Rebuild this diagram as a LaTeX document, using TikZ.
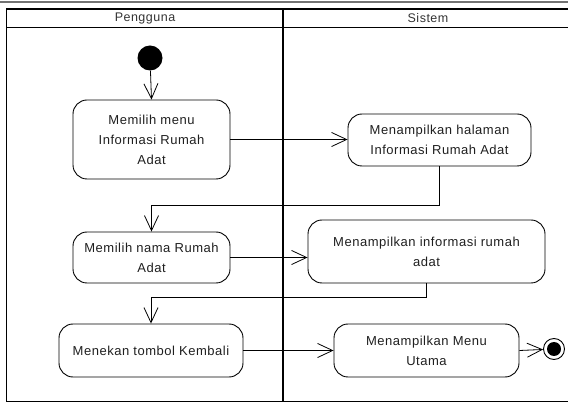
\documentclass[tikz,border=0pt]{standalone}
\usepackage{fontspec}
\setmainfont{Liberation Sans}[LetterSpace=4]
\usetikzlibrary{arrows.meta,calc}
\begin{document}
\begin{tikzpicture}[x=1pt,y=-1pt,
  act/.style={draw, line width=0.9pt, rounded corners=14pt, align=center,
    font=\fontsize{13}{20}\selectfont, text=black!88, inner sep=0pt},
  flow/.style={draw, line width=0.8pt,
    -{Straight Barb[length=15pt,width=14pt,line width=0.8pt]}},
  lane/.style={line width=1.8pt},
  title/.style={font=\fontsize{12.5}{15}\selectfont, text=black!80}]
\useasboundingbox (0,0) rectangle (568,403);

% swimlane frame
\draw[black!55, line width=1.5pt] (0,2) -- (568,2);
\draw[lane] (6.5,9) -- (568,9);
\draw[lane] (6.5,27.5) -- (568,27.5);
\draw[lane] (6.5,8.1) -- (6.5,401.5) -- (568,401.5);
\draw[lane] (283,8.1) -- (283,401.5);
\node[title] (tp) at (145,18.5) {Pengguna};
\node[title] (ts) at (428,18.5) {Sistem};

% initial and final states
\node[circle, fill=black, minimum size=25pt, inner sep=0pt] (start) at (150,58) {};
\node[circle, draw, line width=0.9pt, minimum size=21pt, inner sep=0pt] (end) at (554,349) {};
\node[circle, fill=black, minimum size=14pt, inner sep=0pt] (endin) at (end) {};

% activities
\node[act, minimum width=157pt, minimum height=79pt] (n1) at (151.5,139.5)
  {Memilih menu\\Informasi Rumah\\Adat};
\node[act, minimum width=183pt, minimum height=52pt] (n2) at (439.5,140)
  {Menampilkan halaman\\Informasi Rumah Adat};
\node[act, minimum width=157pt, minimum height=51pt] (n3) at (151.5,257.5)
  {Memilih nama Rumah\\Adat};
\node[act, minimum width=237pt, minimum height=63pt] (n4) at (426.5,251.5)
  {Menampilkan informasi rumah\\adat};
\node[act, minimum width=184pt, minimum height=53pt] (n5) at (151,350.5)
  {Menekan tombol Kembali};
\node[act, minimum width=185pt, minimum height=53pt] (n6) at (426.5,350.5)
  {Menampilkan Menu\\Utama};

% bend points of the return flows
\coordinate (j1) at (151.5,205);
\coordinate (j2) at (151,297);

% control flows
\draw[flow] (start) -- (n1.north);
\draw[flow] (n1.east) -- (n1.east -| n2.west);
\draw[flow] (n2.south) |- (j1) -- (n3.north);
\draw[flow] (n3.east) -- (n3.east -| n4.west);
\draw[flow] (n4.south) |- (j2) -- (n5.north);
\draw[flow] (n5.east) -- (n5.east -| n6.west);
\draw[flow] (n6.east) -- (end);
\end{tikzpicture}
\end{document}
